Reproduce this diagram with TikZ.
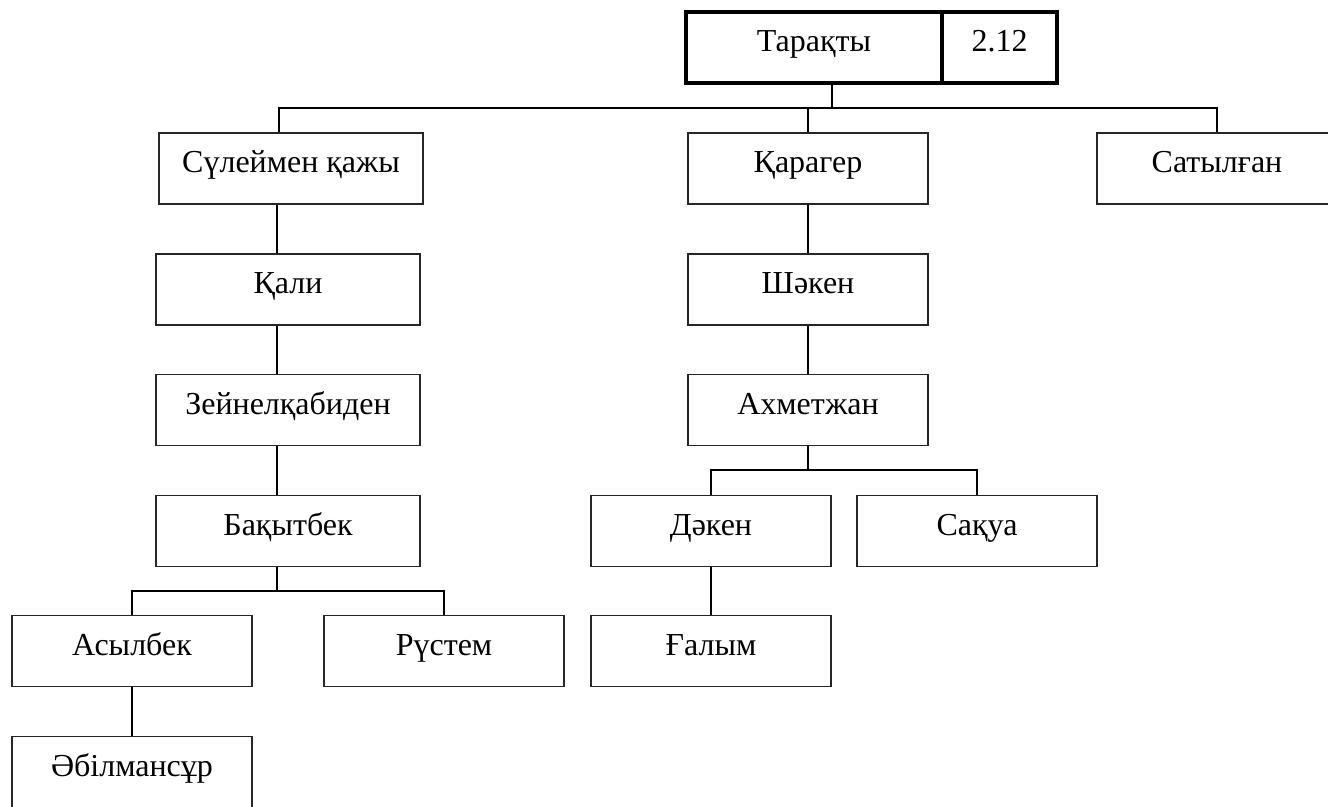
\documentclass[tikz,border=0pt]{standalone}
\usepackage{fontspec}
\setmainfont{Liberation Serif}
\begin{document}
\begin{tikzpicture}
        [x=1pt, y=-1pt,
        person/.style={rectangle, draw=black!85, line width=1.5pt, minimum width=240pt, minimum height=71pt,
            inner sep=0pt, text height=20pt, text depth=12pt, font=\fontsize{32}{38}\selectfont},
        wide/.style={person, minimum width=264pt},
        head/.style={person, draw=black, line width=4pt},
        conn/.style={black, line width=2pt}]

        \useasboundingbox (0,0) rectangle (1328,806);

        % head of the family
        \node[head, minimum width=256pt] (tar) at (814,47.5) {Тарақты};
        \node[head, minimum width=115pt] (num) at (999.5,47.5) {2.12};

        % left branch
        \node[wide] (sul) at (291,168.5) {Сүлеймен қажы};
        \node[wide] (kal) at (288,289.5) {Қали};
        \node[wide] (zey) at (288,410) {Зейнелқабиден};
        \node[wide] (bak) at (288,531) {Бақытбек};
        \node[person] (asy) at (132,651) {Асылбек};
        \node[person] (rus) at (444,651) {Рүстем};
        \node[person] (abi) at (132,772) {Әбілмансұр};

        % middle branch
        \node[person] (kar) at (808,168.5) {Қарагер};
        \node[person] (sha) at (808,289.5) {Шәкен};
        \node[person] (akh) at (808,410) {Ахметжан};
        \node[person] (dak) at (711,531) {Дәкен};
        \node[person] (sak) at (977,531) {Сақуа};
        \node[person] (gal) at (711,651) {Ғалым};

        % right branch
        \node[person] (sat) at (1217,168.5) {Сатылған};

        % joints
        \coordinate (top) at (832,108);
        \coordinate (lx) at (277,0);
        \coordinate (bj) at (277,591);
        \coordinate (aj) at (808,470);

        % first level
        \draw[conn] (tar.south -| top) -- (top);
        \draw[conn] (sul.north -| 279,0) |- (top);
        \draw[conn] (top) -| (sat.north);
        \draw[conn] (kar.north) -- (kar.north |- top);

        % left chain
        \draw[conn] (sul.south -| lx) -- (kal.north -| lx);
        \draw[conn] (kal.south -| lx) -- (zey.north -| lx);
        \draw[conn] (zey.south -| lx) -- (bak.north -| lx);
        \draw[conn] (bak.south -| bj) -- (bj);
        \draw[conn] (asy.north) |- (bj) -| (rus.north);
        \draw[conn] (asy.south) -- (abi.north);

        % middle chain
        \draw[conn] (kar.south) -- (sha.north);
        \draw[conn] (sha.south) -- (akh.north);
        \draw[conn] (akh.south) -- (aj);
        \draw[conn] (dak.north) |- (aj) -| (sak.north);
        \draw[conn] (dak.south) -- (gal.north);

\end{tikzpicture}
\end{document}
